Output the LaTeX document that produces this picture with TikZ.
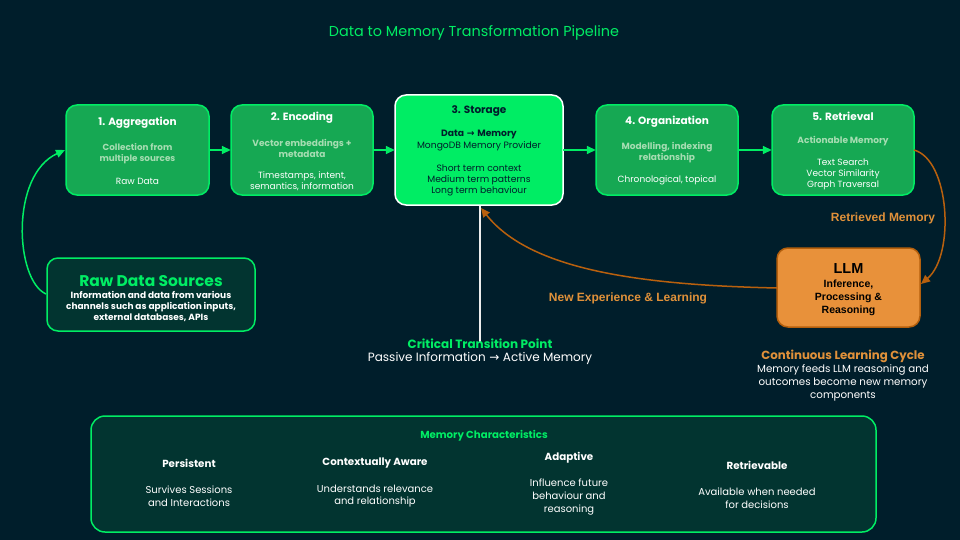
\documentclass[tikz,border=0pt]{standalone}
\usepackage{fontspec}
\setmainfont{Poppins}
\newfontfamily\arialf{Liberation Sans}
\newfontfamily\symf{DejaVu Sans}
\usetikzlibrary{arrows.meta}
\definecolor{bgc}{HTML}{001E2B}
\definecolor{mgreen}{HTML}{00ED64}
\definecolor{boxg}{HTML}{16A853}
\definecolor{softg}{HTML}{A6DDB2}
\definecolor{darkteal}{HTML}{023430}
\definecolor{llmfill}{HTML}{E8913A}
\definecolor{llmbord}{HTML}{B45F0C}
\definecolor{orline}{HTML}{B8600E}
\definecolor{orlab}{HTML}{E0913A}
\newcommand{\rarr}{\hspace{0.3em}{\symf\fontsize{1em}{1em}\selectfont →}\hspace{0.3em}}
\tikzset{
  stagebox/.style={draw=mgreen, line width=1.5pt, fill=boxg, rounded corners=11pt},
  storebox/.style={draw=white, line width=1.5pt, fill=mgreen, rounded corners=11pt},
  srcbox/.style={draw=mgreen, line width=1.5pt, fill=darkteal, rounded corners=11pt},
  llmbox/.style={draw=llmbord, line width=1.5pt, fill=llmfill, rounded corners=11pt},
  txt/.style={align=center, inner sep=0pt},
  gflow/.style={draw=mgreen, line width=1.5pt, -{Triangle[length=9pt,width=8pt]}},
  oflow/.style={draw=orline, line width=1.5pt, -{Triangle[length=9pt,width=8pt]}},
}
\begin{document}
\begin{tikzpicture}[x=1pt,y=-1pt]
\fill[bgc] (0,0) rectangle (960,540);
\useasboundingbox (0,0) rectangle (960,540);

\node[txt, text=mgreen, font=\fontsize{14.4}{16}\selectfont] (title) at (474,33) {Data to Memory Transformation Pipeline};

% stage boxes
\path[stagebox] (66,105) rectangle (209,195);
\node (agg) at (137.5,150) [minimum width=143pt, minimum height=90pt, inner sep=0pt] {};
\path[stagebox] (231,105) rectangle (373,195);
\node (enc) at (302,150) [minimum width=142pt, minimum height=90pt, inner sep=0pt] {};
\path[storebox] (395,95) rectangle (563,205);
\node (sto) at (479,150) [minimum width=168pt, minimum height=110pt, inner sep=0pt] {};
\path[stagebox] (596,105) rectangle (738,195);
\node (org) at (667,150) [minimum width=142pt, minimum height=90pt, inner sep=0pt] {};
\path[stagebox] (772,105) rectangle (914,195);
\node (ret) at (843,150) [minimum width=142pt, minimum height=90pt, inner sep=0pt] {};

% texts
\node[txt, text=white, font=\fontsize{10.5}{12}\selectfont\bfseries] (aggt) at (137.5,123) {1. Aggregation};
\node[txt, text=softg, font=\fontsize{8.8}{11}\selectfont\bfseries] (aggs) at (137.5,153.5) {Collection from\\multiple sources};
\node[txt, text=white, font=\fontsize{9}{11}\selectfont] (aggb) at (137.5,181) {Raw Data};

\node[txt, text=white, font=\fontsize{10.5}{12}\selectfont\bfseries] (enct) at (302,118) {2. Encoding};
\node[txt, text=softg, font=\fontsize{9}{11}\selectfont\bfseries] (encs) at (302,148.5) {Vector embeddings +\\metadata};
\node[txt, text=white, font=\fontsize{9}{11.5}\selectfont] (encb) at (302,181) {Timestamps, intent,\\semantics, information};

\node[txt, text=bgc, font=\fontsize{10.5}{12}\selectfont\bfseries] (stot) at (479,111) {3. Storage};
\node[txt, text=bgc, font=\fontsize{9.2}{12}\selectfont] (stos) at (479,141) {\textbf{Data\rarr Memory}\\MongoDB Memory Provider};
\node[txt, text=bgc, font=\fontsize{9.2}{11}\selectfont] (stob) at (479,180) {Short term context\\Medium term patterns\\Long term behaviour};

\node[txt, text=white, font=\fontsize{10.5}{12}\selectfont\bfseries] (orgt) at (667,122) {4. Organization};
\node[txt, text=softg, font=\fontsize{9}{11}\selectfont\bfseries] (orgs) at (667,152.5) {Modelling, indexing\\relationship};
\node[txt, text=white, font=\fontsize{9}{11}\selectfont] (orgb) at (667,180) {Chronological, topical};

\node[txt, text=white, font=\fontsize{10.5}{12}\selectfont\bfseries] (rett) at (843,116) {5. Retrieval};
\node[txt, text=softg, font=\fontsize{9}{11}\selectfont\bfseries] (rets) at (843,141) {Actionable Memory};
\node[txt, text=white, font=\fontsize{9}{11}\selectfont] (retb) at (843,174) {Text Search\\Vector Similarity\\Graph Traversal};

% Raw data sources
\path[srcbox] (47,258) rectangle (255,331);
\node (src) at (151,294.5) [minimum width=208pt, minimum height=73pt, inner sep=0pt] {};
\node[txt, text=mgreen, font=\fontsize{15.5}{17}\selectfont\bfseries] (srct) at (151,281) {Raw Data Sources};
\node[txt, text=white, font=\fontsize{9}{11.3}\selectfont\bfseries] (srcb) at (151,306.5) {Information and data from various\\channels such as application inputs,\\external databases, APIs};

% LLM
\path[llmbox] (777,248) rectangle (920,327);
\node (llm) at (848.5,287.5) [minimum width=143pt, minimum height=79pt, inner sep=0pt] {};
\node[txt, text=black, font=\arialf\fontsize{14.5}{16}\selectfont\bfseries] (llmt) at (848.5,269) {LLM};
\node[txt, text=black, font=\arialf\fontsize{10.5}{13}\selectfont\bfseries] (llmb) at (848.5,297.5) {Inference,\\Processing \&\\Reasoning};

% green flow arrows
\draw[gflow] (agg.east) -- (enc.west);
\draw[gflow] (enc.east) -- (sto.west);
\draw[gflow] (sto.east) -- (org.west);
\draw[gflow] (org.east) -- (ret.west);

% raw data to aggregation
\coordinate (srcl) at (46,294);
\coordinate (aggl) at (65,150);
\draw[gflow] (srcl) .. controls (15,280) and (10,175) .. (aggl);

% retrieval to LLM
\coordinate (retr) at (914,150);
\coordinate (llmr) at (921,284);
\draw[oflow] (retr) .. controls (950,160) and (955,255) .. (llmr);
\node[txt, text=orlab, font=\arialf\fontsize{12}{14}\selectfont\bfseries] (retlab) at (883,218) {Retrieved Memory};

% transition line
\coordinate (stob2) at (480,206);
\coordinate (lineend) at (480,342);
\draw[white!85!gray, line width=1.6pt] (stob2) -- (lineend);

% LLM to storage
\coordinate (llml) at (777,288);
\coordinate (stoin) at (481,208);
\draw[oflow] (llml) .. controls (640,285) and (530,270) .. (stoin);
\node[txt, text=orlab, font=\arialf\fontsize{12}{14}\selectfont\bfseries] (newlab) at (628,298) {New Experience \& Learning};

% critical transition
\node[txt, text=mgreen, font=\fontsize{12}{14}\selectfont\bfseries] (crit) at (480,343.5) {Critical Transition Point};
\node[txt, text=white, font=\fontsize{12}{14}\selectfont] (critb) at (480,358) {Passive Information\rarr Active Memory};

% continuous learning
\node[txt, text=orlab, font=\fontsize{11.8}{13}\selectfont\bfseries] (cont) at (843,356) {Continuous Learning Cycle};
\node[txt, text=white, font=\fontsize{10.3}{13}\selectfont] (contb) at (843,383) {Memory feeds LLM reasoning and\\outcomes become new memory\\components};

% memory characteristics
\path[draw=mgreen, line width=1.5pt, fill=darkteal, rounded corners=14pt] (91,416) rectangle (876,532);
\node (mc) at (483.5,474) [minimum width=785pt, minimum height=116pt, inner sep=0pt] {};
\node[txt, text=mgreen, font=\fontsize{10.2}{12}\selectfont\bfseries] (mct) at (484,436) {Memory Characteristics};
\node[txt, text=white, font=\fontsize{10.3}{12}\selectfont\bfseries] (p1) at (189,463) {Persistent};
\node[txt, text=white, font=\fontsize{10}{12.5}\selectfont] (p1b) at (189,496) {Survives Sessions\\and Interactions};
\node[txt, text=white, font=\fontsize{10.3}{12}\selectfont\bfseries] (p2) at (375,463) {Contextually Aware};
\node[txt, text=white, font=\fontsize{10}{12.5}\selectfont] (p2b) at (375,496) {Understands relevance\\and relationship};
\node[txt, text=white, font=\fontsize{10.3}{12}\selectfont\bfseries] (p3) at (569,458) {Adaptive};
\node[txt, text=white, font=\fontsize{10}{13}\selectfont] (p3b) at (569,497) {Influence future\\behaviour and\\reasoning};
\node[txt, text=white, font=\fontsize{10.3}{12}\selectfont\bfseries] (p4) at (757,465) {Retrievable};
\node[txt, text=white, font=\fontsize{10}{12.5}\selectfont] (p4b) at (757,498) {Available when needed\\for decisions};
\end{tikzpicture}
\end{document}
